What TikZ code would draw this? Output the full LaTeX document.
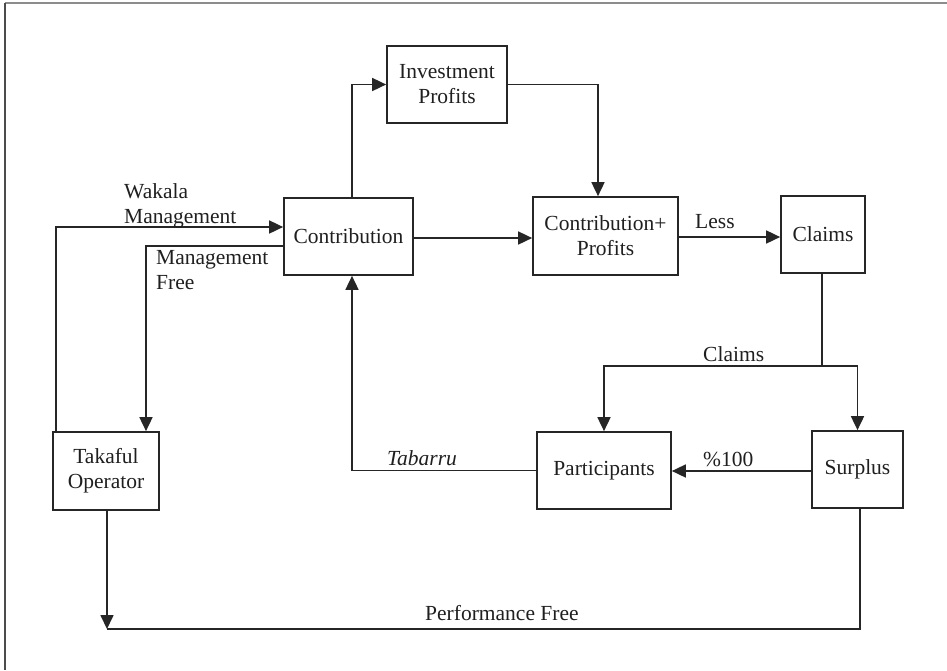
\documentclass[tikz,border=0pt]{standalone}
\usepackage{fontspec}
\setmainfont{Liberation Serif}
\usetikzlibrary{arrows.meta,calc}
\begin{document}
\begin{tikzpicture}[x=1pt,y=-1pt,
  every node/.style={font=\fontsize{21.5}{25}\selectfont, text=black!88},
  box/.style={draw=black!85, line width=1.7pt, align=center, inner sep=2pt},
  conn/.style={draw=black!85, line width=1.7pt},
  arr/.style={conn, -{Triangle[length=14pt,width=13pt]}},
  lbl/.style={inner sep=0pt, align=left}]
\useasboundingbox (0,0) rectangle (947,670);
\draw[line width=1.5pt, black!45] (5,3) -- (947,3);
\draw[line width=1.5pt, black!70] (5,3) -- (5,670);
% boxes
\node[box, minimum width=120pt, minimum height=77pt] (inv) at (447,84.5) {Investment\\Profits};
\node[box, minimum width=129pt, minimum height=77pt] (contr) at (348.5,236.5) {Contribution};
\node[box, minimum width=145pt, minimum height=78pt] (cp) at (605.5,236) {Contribution+\\Profits};
\node[box, minimum width=84pt, minimum height=77pt] (claims) at (823,234.5) {Claims};
\node[box, minimum width=134pt, minimum height=77pt] (part) at (604,470.5) {Participants};
\node[box, minimum width=91pt, minimum height=77pt] (surplus) at (857.5,469.5) {Surplus};
\node[box, minimum width=106pt, minimum height=78pt] (tak) at (106,471) {Takaful\\Operator};
% helper coordinates
\coordinate (split) at (822,366);
\coordinate (pf) at (107,629);
% connectors
\draw[arr] ([xshift=3.5pt]contr.north) |- (inv.west);
\draw[arr] (inv.east) -| ([xshift=-7.5pt]cp.north);
\draw[arr] ([yshift=-1.5pt]contr.east) -- ([yshift=-1.5pt]contr.east -| cp.west);
\draw[arr] ([yshift=-1pt]cp.east) -- ([yshift=-1pt]cp.east -| claims.west);
\draw[conn] ([xshift=-1pt]claims.south) -- (split);
\draw[arr] (split) -| (part.north);
\draw[arr] (split) -| (surplus.north);
\draw[arr] ([yshift=-1.5pt]surplus.west) -- ([yshift=-1.5pt]surplus.west -| part.east);
\draw[arr] (part.west) -| ([xshift=3.5pt]contr.south);
\draw[arr] ([xshift=4pt]tak.north west) |- ([yshift=9.5pt]contr.west);
\draw[arr] ([yshift=-9.5pt]contr.west) -| ([xshift=40pt]tak.north);
\draw[arr] ([xshift=1pt]tak.south) -- (pf);
\draw[conn] ([xshift=2.5pt]surplus.south) |- (pf);
% labels
\node[lbl, anchor=south west] (wak) at (124,228) {Wakala\\Management};
\node[lbl, anchor=north west] (mf) at (156,250) {Management\\Free};
\node[lbl, anchor=base west] (less) at (695,228) {Less};
\node[lbl, anchor=base west] (cl) at (703,361) {Claims};
\node[lbl, anchor=base west] (pct) at (703,466) {\%100};
\node[lbl, anchor=base west] (tab) at (387,465) {\textit{Tabarru}};
\node[lbl, anchor=base west] (perf) at (425,620) {Performance Free};
\end{tikzpicture}
\end{document}
